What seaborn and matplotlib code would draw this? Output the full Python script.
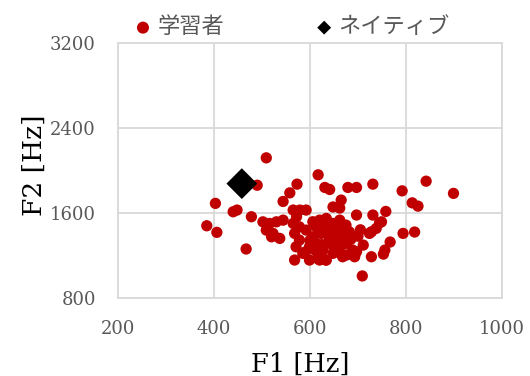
import matplotlib
matplotlib.use("Agg")
import matplotlib.pyplot as plt
import seaborn as sns
import pandas as pd

# Learner vowel formants (F1, F2 in Hz)
learner_f1 = [509, 490, 617, 573, 558, 544, 631, 641, 679, 697, 731, 792, 842, 899,
              813, 825, 758, 403, 440, 448, 478, 385, 406, 467, 709, 794, 818, 767,
              756, 753, 728, 731, 745, 738, 728, 620, 633, 693, 672, 665, 648, 662,
              697, 711, 697, 676, 693, 502, 516, 530, 544, 509, 523, 537, 520, 565,
              579, 592, 572, 565, 568, 578, 571, 568, 585, 599, 606, 613, 620, 634,
              648, 662, 675, 682, 668, 655, 641, 627, 616, 634, 648, 662, 675, 689,
              613, 592, 606, 644, 623, 668, 599, 578, 749, 724,
              600, 610, 625, 640, 652, 660, 685, 700, 590, 630, 655, 705]
learner_f2 = [2118, 1860, 1958, 1870, 1788, 1707, 1839, 1820, 1839, 1839, 1870, 1807,
              1898, 1783, 1694, 1663, 1613, 1689, 1610, 1626, 1563, 1478, 1416, 1259,
              1005, 1406, 1419, 1325, 1249, 1211, 1186, 1579, 1506, 1453, 1421, 1155,
              1155, 1186, 1202, 1720, 1655, 1645, 1579, 1296, 1233, 1202, 1193, 1515,
              1500, 1515, 1531, 1437, 1406, 1359, 1374, 1626, 1626, 1626, 1563, 1500,
              1406, 1343, 1280, 1155, 1218, 1280, 1374, 1468, 1531, 1547, 1500, 1531,
              1484, 1421, 1406, 1374, 1312, 1249, 1170, 1155, 1218, 1280, 1312, 1249,
              1312, 1437, 1516, 1406, 1406, 1186, 1155, 1468, 1515, 1406,
              1340, 1250, 1300, 1360, 1260, 1340, 1350, 1380, 1230, 1450, 1450, 1440]

# Native speaker reference
native_f1 = [458]
native_f2 = [1875]

x_ticks = [200, 400, 600, 800, 1000]
y_ticks = [800, 1600, 2400, 3200]

learners = pd.DataFrame({"F1": learner_f1, "F2": learner_f2})
natives = pd.DataFrame({"F1": native_f1, "F2": native_f2})

sns.set_theme(style="white")
plt.rcParams["font.family"] = ["DejaVu Serif", "Noto Sans CJK JP"]

fig = plt.figure(figsize=(5.30, 3.76), dpi=100)
ax = fig.add_axes([0.2226, 0.2082, 0.7245, 0.6774])

sns.scatterplot(data=learners, x="F1", y="F2", ax=ax, color="#C00000",
                s=66, marker="o", edgecolor="none", label="学習者", zorder=3)
sns.scatterplot(data=natives, x="F1", y="F2", ax=ax, color="black",
                s=245, marker="D", edgecolor="none", label="ネイティブ", zorder=4)

ax.set_xlim(x_ticks[0], x_ticks[-1])
ax.set_ylim(y_ticks[0], y_ticks[-1])
ax.set_xticks(x_ticks)
ax.set_yticks(y_ticks)

grid_c = "#d9d9d9"
ax.grid(True, color=grid_c, linewidth=1.3)
for sp in ax.spines.values():
    sp.set_visible(True)
    sp.set_color(grid_c)
    sp.set_linewidth(1.3)

ax.tick_params(axis="both", length=0, labelsize=13, labelcolor="#595959")
ax.tick_params(axis="x", pad=16)
ax.tick_params(axis="y", pad=16)

ax.set_xlabel("F1 [Hz]", fontsize=18.5, color="black")
ax.set_ylabel("F2 [Hz]", fontsize=19, color="black")
ax.xaxis.set_label_coords(0.474, -0.212)
ax.yaxis.set_label_coords(-0.185, 0.52)

leg = ax.legend(loc="center left", bbox_to_anchor=(0.013, 1.063), ncol=2,
                frameon=False, handletextpad=0.15, columnspacing=4.0,
                borderaxespad=0.0, handlelength=1.0,
                prop={"family": ["Noto Sans CJK JP"], "size": 16})
for t in leg.get_texts():
    t.set_color("#595959")
leg.legend_handles[0].set_sizes([75])
leg.legend_handles[1].set_sizes([50])

fig.savefig("out.png", dpi=100)
